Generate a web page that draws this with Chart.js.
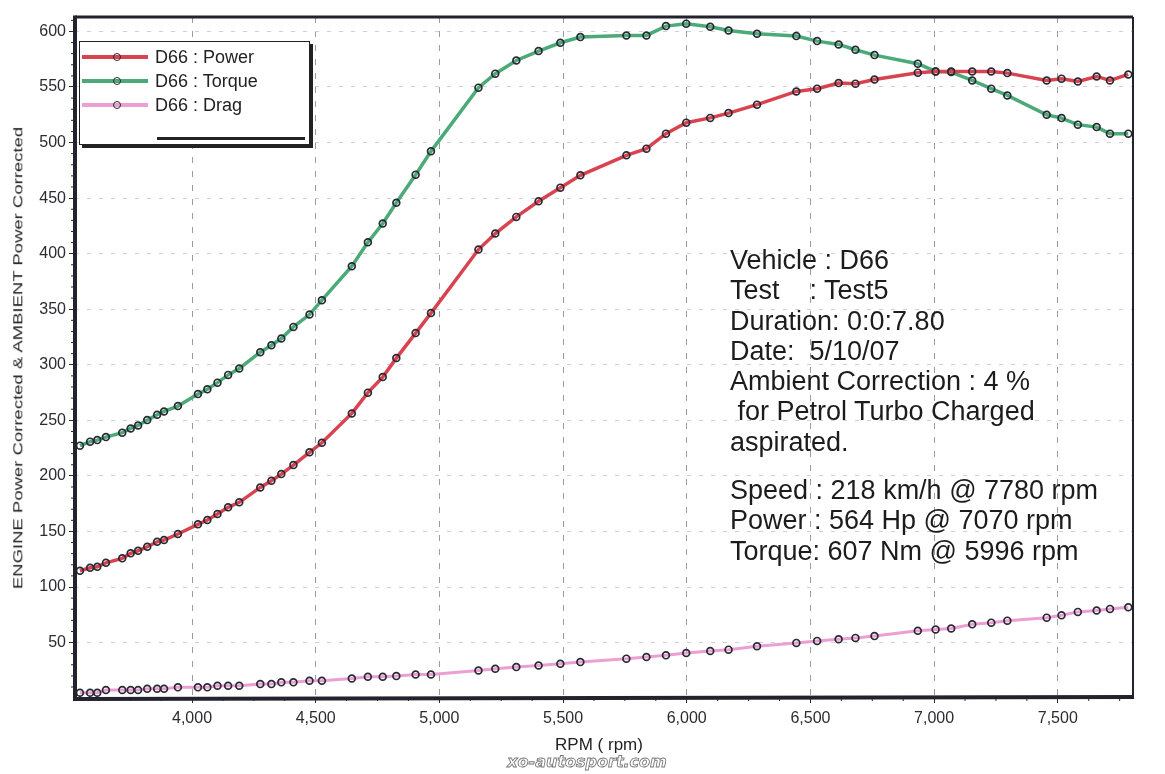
<!DOCTYPE html>
<html>
<head>
<meta charset="utf-8">
<title>D66 dyno run</title>
<script src="https://cdn.jsdelivr.net/npm/chart.js@4.4.1/dist/chart.umd.min.js"></script>
<style>
  html, body { margin: 0; padding: 0; background: #fff; }
  #wrap { position: relative; width: 1165px; height: 774px; overflow: hidden;
          font-family: "Liberation Sans", Arial, sans-serif; color: #222; }
  #dyno { position: absolute; left: 0; top: 0; }
  #legend { position: absolute; left: 79px; top: 41px; width: 229px; height: 102px;
            border: 1.5px solid #222; box-shadow: 3px 3px 0 #222; background: #fff; }
  #legend .row { position: absolute; left: 0; height: 20px; width: 100%; }
  #legend .sw { position: absolute; left: 2px; top: 8px; width: 66px; height: 4px; }
  #legend .dot { position: absolute; left: 33px; top: 5.5px; width: 6px; height: 6px;
                 border: 1.8px solid #2a2a35; border-radius: 50%; }
  #legend .lbl { position: absolute; left: 75px; top: 0; font-size: 18px; line-height: 20px; color: #222; }
  #legend .extra { position: absolute; left: 77px; top: 95px; width: 148px; height: 3px; background: #222; }
  #info { position: absolute; left: 730px; top: 245px; font-size: 27px; line-height: 30.3px;
          white-space: pre; color: #1c1c1c; }
  #xtitle { position: absolute; left: 599px; top: 745px; transform: translate(-50%, -50%);
            font-size: 17px; color: #222; white-space: pre; }
  #ytitle { position: absolute; left: 18px; top: 358px; transform: translate(-50%, -50%) rotate(-90deg) scaleY(0.7);
            font-size: 18.5px; color: #222; white-space: pre; }
  #mark { position: absolute; left: 587px; top: 761px; transform: translate(-50%, -50%);
          font-family: "DejaVu Sans", sans-serif; font-weight: bold; font-style: italic; font-size: 16px;
          color: #fff; -webkit-text-stroke: 0.9px #7a7a7a; white-space: pre; }
</style>
</head>
<body>
<div id="wrap">
  <canvas id="dyno" width="1165" height="774"></canvas>
  <div id="legend"></div>
  <div id="info"></div>
  <div id="xtitle">RPM ( rpm)</div>
  <div id="ytitle">ENGINE Power Corrected &amp; AMBIENT Power Corrected</div>
  <div id="mark">xo-autosport.com</div>
</div>
<script>
// data

const rpm = [3547, 3588, 3617, 3652, 3718, 3752, 3782, 3819, 3859, 3887,
             3943, 4024, 4062, 4103, 4146, 4191, 4276, 4321, 4361, 4410,
             4475, 4525, 4646, 4711, 4771, 4826, 4904, 4966, 5158, 5226,
             5311, 5401, 5489, 5570, 5756, 5837, 5916, 5998, 6095, 6169,
             6284, 6443, 6527, 6614, 6682, 6759, 6934, 7006, 7069, 7154,
             7231, 7296, 7455, 7515, 7581, 7657, 7711, 7785];

const power = [114.6, 117.3, 118.2, 121.8, 125.8, 130.3, 132.6, 136.2, 140.7, 142.3,
               147.7, 156.4, 160.3, 165.7, 171.7, 176.2, 189.6, 195.6, 201.6, 209.7,
               221.2, 229.8, 256.2, 274.9, 288.9, 306.0, 328.5, 346.5, 403.7, 418.1,
               433.1, 447.1, 459.4, 470.5, 488.5, 494.5, 508.0, 517.9, 522.2, 526.5,
               534.1, 546.0, 548.5, 553.5, 553.0, 556.8, 562.9, 564.0, 564.0, 564.0,
               564.0, 562.5, 555.9, 557.5, 555.0, 559.5, 555.9, 561.3];

const torque = [227.2, 230.8, 232.2, 234.9, 238.9, 242.7, 245.4, 250.2, 255.0, 258.0,
                262.8, 273.6, 277.9, 283.9, 290.9, 296.7, 311.3, 317.6, 323.6, 334.1,
                345.2, 358.1, 388.7, 410.2, 427.1, 445.8, 471.1, 492.1, 549.4, 562.0,
                573.9, 582.3, 589.8, 594.9, 596.4, 596.4, 604.8, 607.0, 604.2, 600.9,
                597.9, 595.8, 591.3, 588.3, 583.5, 578.7, 571.0, 564.0, 563.4, 555.9,
                548.5, 542.4, 525.0, 522.0, 516.1, 513.9, 508.0, 508.0];

const drag = [4.8, 4.8, 4.8, 7.3, 7.3, 7.3, 7.3, 8.4, 8.4, 8.4,
              9.7, 9.7, 9.7, 11.1, 11.1, 11.1, 12.6, 12.6, 14.2, 14.2,
              15.6, 15.6, 17.7, 19.2, 19.2, 19.8, 21.2, 21.2, 24.9, 26.4,
              27.9, 29.4, 30.9, 32.4, 35.5, 37.0, 38.5, 40.6, 42.4, 43.6,
              46.7, 49.7, 51.5, 53.0, 54.2, 55.8, 60.6, 61.8, 62.7, 66.4,
              67.9, 69.7, 72.4, 74.5, 77.6, 78.8, 80.3, 81.8];

const seriesNames = ["D66 : Power", "D66 : Torque", "D66 : Drag"];
const seriesColors = ["#d9434f", "#4caa78", "#eb9fd3"];

const xTicks = [4000, 4500, 5000, 5500, 6000, 6500, 7000, 7500];
const yTicks = [50, 100, 150, 200, 250, 300, 350, 400, 450, 500, 550, 600];

const infoLines = ["Vehicle : D66", "Test    : Test5", "Duration: 0:0:7.80", "Date:  5/10/07",
                   "Ambient Correction : 4 %", " for Petrol Turbo Charged", "aspirated."];
const resultLines = ["Speed : 218 km/h @ 7780 rpm", "Power : 564 Hp @ 7070 rpm", "Torque: 607 Nm @ 5996 rpm"];

// side texts

const legendBox = document.querySelector("#legend");
seriesNames.forEach((name, i) => {
    const row = document.createElement("div");
    row.className = "row";
    row.style.top = (5 + i * 24) + "px";
    row.innerHTML = `<span class="sw" style="background:${seriesColors[i]}"></span><span class="dot"></span><span class="lbl">${name}</span>`;
    legendBox.appendChild(row);
});
const extra = document.createElement("div");
extra.className = "extra";
legendBox.appendChild(extra);

const info = document.querySelector("#info");
infoLines.forEach(t => {
    const d = document.createElement("div");
    d.textContent = t;
    info.appendChild(d);
});
resultLines.forEach((t, i) => {
    const d = document.createElement("div");
    d.textContent = t;
    if (i === 0) d.style.marginTop = "18px";
    info.appendChild(d);
});

// frame + small ticks round the plot

const framePlugin = {
    id: "frame",
    afterDatasetsDraw(chart) {
        const {ctx, chartArea: a, scales} = chart;
        ctx.save();
        ctx.strokeStyle = "#2a2a35";
        ctx.lineWidth = 1;
        for (let v = 3625; v < 7800; v += 125) {
            if (v % 500 === 0) continue;
            const x = scales.x.getPixelForValue(v);
            ctx.beginPath(); ctx.moveTo(x, a.bottom); ctx.lineTo(x, a.bottom + 4); ctx.stroke();
        }
        for (let v = 10; v < 613; v += 10) {
            if (v % 50 === 0) continue;
            const y = scales.y.getPixelForValue(v);
            ctx.beginPath(); ctx.moveTo(a.left - 4, y); ctx.lineTo(a.left, y); ctx.stroke();
        }
        ctx.strokeStyle = "#23232e";
        ctx.lineWidth = 3;
        ctx.beginPath(); ctx.moveTo(a.left, a.top); ctx.lineTo(a.right, a.top); ctx.stroke();
        ctx.lineWidth = 2;
        ctx.beginPath(); ctx.moveTo(a.right, a.top); ctx.lineTo(a.right, a.bottom); ctx.stroke();
        ctx.lineWidth = 4;
        ctx.beginPath(); ctx.moveTo(a.left, a.top - 1.5); ctx.lineTo(a.left, a.bottom + 2);
        ctx.lineTo(a.right + 1, a.bottom); ctx.stroke();
        ctx.restore();
    }
};

function series(values, i, width) {
    return {
        label: seriesNames[i],
        data: rpm.map((r, k) => ({x: r, y: values[k]})),
        borderColor: seriesColors[i],
        borderWidth: width,
        tension: 0,
        pointRadius: 3.4,
        pointBorderWidth: 1.7,
        pointBorderColor: "#2a2a35",
        pointBackgroundColor: "rgba(255,255,255,0)"
    };
}

const tickFont = {family: "'Liberation Sans', Arial, sans-serif", size: 16};

new Chart(document.querySelector("#dyno"), {
    type: "line",
    data: {
        datasets: [
            series(power, 0, 3.5),
            series(torque, 1, 3.5),
            series(drag, 2, 3)
        ]
    },
    options: {
        responsive: false,
        animation: false,
        layout: {padding: {left: 0, top: 17, right: 32, bottom: 0}},
        plugins: {legend: {display: false}, tooltip: {enabled: false}},
        scales: {
            x: {
                type: "linear",
                min: 3527,
                max: 7804,
                afterFit: s => { s.height = 77; },
                afterBuildTicks: s => { s.ticks = xTicks.map(v => ({value: v})); },
                grid: {color: "#9a9aa6", lineWidth: 1, tickLength: 6, tickColor: "#2a2a35"},
                border: {display: false, dash: [6, 8]},
                ticks: {
                    font: tickFont, color: "#2b2b33", padding: 6, maxRotation: 0,
                    callback: v => v.toLocaleString("en-US")
                }
            },
            y: {
                min: 1,
                max: 613,
                afterFit: s => { s.width = 75; },
                afterBuildTicks: s => { s.ticks = yTicks.map(v => ({value: v})); },
                grid: {color: "#cfcfd6", lineWidth: 1, tickLength: 6, tickColor: "#2a2a35"},
                border: {display: false, dash: [4, 8]},
                ticks: {font: tickFont, color: "#2b2b33", padding: 3}
            }
        }
    },
    plugins: [framePlugin]
});
</script>
</body>
</html>
